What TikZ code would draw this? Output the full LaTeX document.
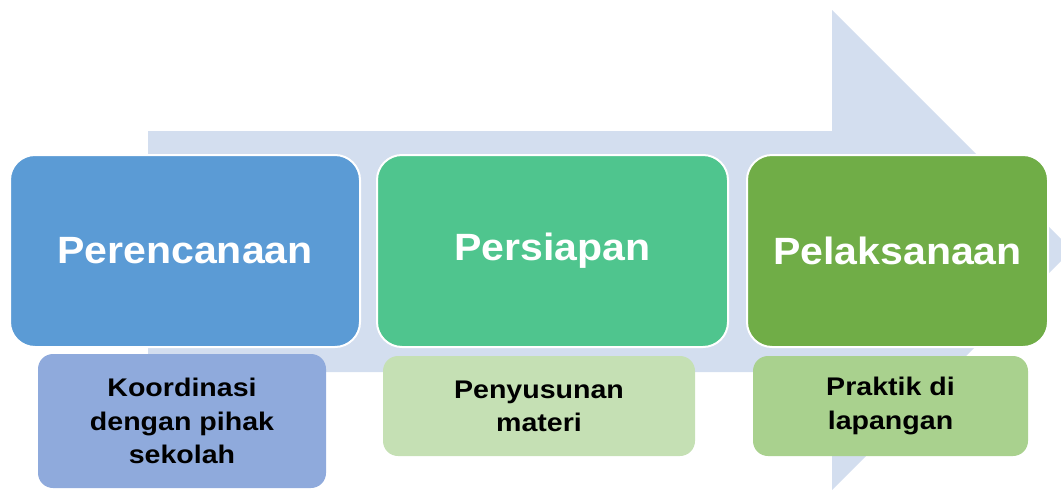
\documentclass[tikz,border=0pt]{standalone}
\usepackage{fontspec}
\setmainfont{Liberation Sans}
\definecolor{arrowc}{HTML}{D3DEEF}
\definecolor{boxA}{HTML}{5B9BD5}
\definecolor{boxB}{HTML}{4FC58E}
\definecolor{boxC}{HTML}{70AD47}
\definecolor{subA}{HTML}{8FAADC}
\definecolor{subB}{HTML}{C5E0B4}
\definecolor{subC}{HTML}{A9D18E}
\newcommand\wmain[1]{\scalebox{1.08}[1]{#1}}
\newcommand\wsub[1]{\scalebox{1.12}[1]{#1}}
\begin{document}
\begin{tikzpicture}[x=1pt,y=-1pt,
  mainbox/.style={rectangle, rounded corners=25pt, draw=white, line width=2pt,
    inner sep=0pt, minimum height=192pt, text=white,
    font=\fontsize{38}{44}\selectfont\bfseries},
  subbox/.style={rectangle, rounded corners=15pt, draw=none,
    inner sep=0pt, text=black, align=center,
    font=\fontsize{25.5}{33.3}\selectfont\bfseries}]
\useasboundingbox (0,0) rectangle (1061,490);
\clip (0,0) rectangle (1061,490);
\fill[arrowc] (148,131) -- (832,131) -- (832,10) -- (1072,250) -- (832,490)
  -- (832,372) -- (148,372) -- cycle;
\node[mainbox, fill=boxA, minimum width=350pt] (m1) at (185,251) {\wmain{Perencanaan}};
\node[mainbox, fill=boxB, minimum width=351pt] (m2) at (552.5,251) {\wmain{Persiapan}};
\node[mainbox, fill=boxC, minimum width=301pt] (m3) at (897.5,251) {\wmain{Pelaksanaan}};
\node[subbox, fill=subA, minimum width=288pt, minimum height=134pt] (s1) at (182,421)
  {\wsub{Koordinasi}\\\wsub{dengan pihak}\\\wsub{sekolah}};
\node[subbox, fill=subB, minimum width=312pt, minimum height=100pt] (s2) at (539,406)
  {\wsub{Penyusunan}\\\wsub{materi}};
\node[subbox, fill=subC, minimum width=275pt, minimum height=100pt] (s3) at (890.5,406)
  {\wsub{Praktik di}\\\wsub{lapangan}};
\end{tikzpicture}
\end{document}
